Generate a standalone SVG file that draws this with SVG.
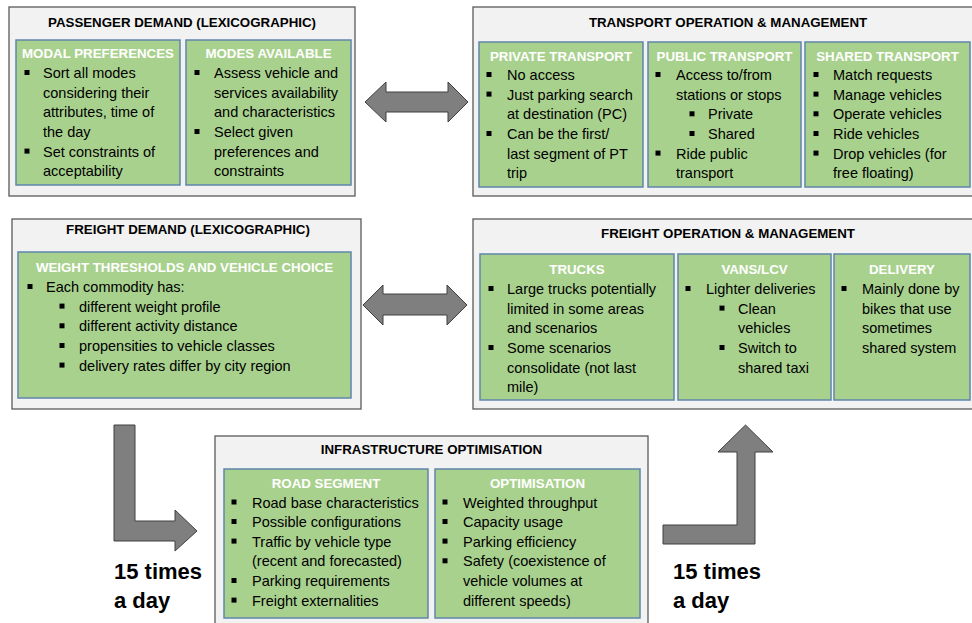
<svg xmlns="http://www.w3.org/2000/svg" xmlns:xlink="http://www.w3.org/1999/xlink" width="972" height="623" viewBox="0 0 972 623">
<style>
.outer{fill:#f2f2f2;stroke:#595959;stroke-width:1.3}
.green{fill:#a9d18e;stroke:#5f85ab;stroke-width:1.5}
.title{font-family:"Liberation Sans",Arial,sans-serif;font-weight:bold;font-size:13.3px;fill:#000;text-anchor:middle}
.hdr{font-family:"Liberation Sans",Arial,sans-serif;font-weight:bold;font-size:13.3px;fill:#fff;text-anchor:middle}
.t{font-family:"Liberation Sans",Arial,sans-serif;font-size:14.5px;fill:#000}
.big{font-family:"Liberation Sans",Arial,sans-serif;font-weight:bold;font-size:22px;fill:#000}
.arrow{fill:#7f7f7f;stroke:#404040;stroke-width:1}
</style>
<defs>
<rect id="b" width="5" height="5" fill="#000"/>
</defs>
<rect x="0" y="0" width="972" height="623" fill="#fff"/>

<g id="connectors">
<polygon class="arrow" points="365,102 386,82 386,92 448,92 448,82 468,102 448,122 448,112 386,112 386,122"/>
<polygon class="arrow" points="363,305 383,285 383,294 447,294 447,285 467,305 447,325 447,315 383,315 383,325"/>
<polygon class="arrow" points="114,425 135,425 135,521 175,521 175,510 197,531 175,551 175,541 114,541"/>
<polygon class="arrow" points="663,525 737,525 737,452 718,452 745.5,425 773,452 755,452 755,544 663,544"/>
</g>

<g id="passenger-demand">
<rect class="outer" x="9" y="7" width="346" height="189"/>
<text class="title" x="182" y="27">PASSENGER DEMAND (LEXICOGRAPHIC)</text>
<g id="modal-preferences">
<rect class="green" x="16" y="40" width="164" height="145"/>
<text class="hdr" x="98" y="58">MODAL PREFERENCES</text>
<use href="#b" x="24.5" y="70"/><text class="t" x="43" y="78">Sort all modes</text>
<text class="t" x="43" y="97.7">considering their</text>
<text class="t" x="43" y="117.3">attributes, time of</text>
<text class="t" x="43" y="137">the day</text>
<use href="#b" x="24.5" y="148.6"/><text class="t" x="43" y="156.6">Set constraints of</text>
<text class="t" x="43" y="176.3">acceptability</text>
</g>
<g id="modes-available">
<rect class="green" x="186" y="40" width="165" height="145"/>
<text class="hdr" x="268.5" y="58">MODES AVAILABLE</text>
<use href="#b" x="194.5" y="70"/><text class="t" x="214" y="78">Assess vehicle and</text>
<text class="t" x="214" y="97.7">services availability</text>
<text class="t" x="214" y="117.3">and characteristics</text>
<use href="#b" x="194.5" y="129"/><text class="t" x="214" y="137">Select given</text>
<text class="t" x="214" y="156.6">preferences and</text>
<text class="t" x="214" y="176.3">constraints</text>
</g>
</g>

<g id="transport-operation">
<rect class="outer" x="473" y="7" width="510" height="189"/>
<text class="title" x="728" y="27">TRANSPORT OPERATION &amp; MANAGEMENT</text>
<g id="private-transport">
<rect class="green" x="479" y="42" width="164" height="145"/>
<text class="hdr" x="561" y="60.5">PRIVATE TRANSPORT</text>
<use href="#b" x="486.5" y="72"/><text class="t" x="507" y="80">No access</text>
<use href="#b" x="486.5" y="91.6"/><text class="t" x="507" y="99.6">Just parking search</text>
<text class="t" x="507" y="119.3">at destination (PC)</text>
<use href="#b" x="486.5" y="131"/><text class="t" x="507" y="139">Can be the first/</text>
<text class="t" x="507" y="158.6">last segment of PT</text>
<text class="t" x="507" y="178.3">trip</text>
</g>
<g id="public-transport">
<rect class="green" x="648" y="42" width="153" height="145"/>
<text class="hdr" x="724.5" y="60.5">PUBLIC TRANSPORT</text>
<use href="#b" x="655.5" y="72"/><text class="t" x="676" y="80">Access to/from</text>
<text class="t" x="676" y="99.6">stations or stops</text>
<use href="#b" x="689.5" y="111.3"/><text class="t" x="708" y="119.3">Private</text>
<use href="#b" x="689.5" y="131"/><text class="t" x="708" y="139">Shared</text>
<use href="#b" x="655.5" y="150.6"/><text class="t" x="676" y="158.6">Ride public</text>
<text class="t" x="676" y="178.3">transport</text>
</g>
<g id="shared-transport">
<rect class="green" x="805" y="42" width="165" height="145"/>
<text class="hdr" x="887.5" y="60.5">SHARED TRANSPORT</text>
<use href="#b" x="813.5" y="72"/><text class="t" x="833" y="80">Match requests</text>
<use href="#b" x="813.5" y="91.6"/><text class="t" x="833" y="99.6">Manage vehicles</text>
<use href="#b" x="813.5" y="111.3"/><text class="t" x="833" y="119.3">Operate vehicles</text>
<use href="#b" x="813.5" y="131"/><text class="t" x="833" y="139">Ride vehicles</text>
<use href="#b" x="813.5" y="150.6"/><text class="t" x="833" y="158.6">Drop vehicles (for</text>
<text class="t" x="833" y="178.3">free floating)</text>
</g>
</g>

<g id="freight-demand">
<rect class="outer" x="12" y="219" width="349" height="190"/>
<text class="title" x="188" y="234">FREIGHT DEMAND (LEXICOGRAPHIC)</text>
<g id="weight-thresholds">
<rect class="green" x="18" y="252" width="333" height="146"/>
<text class="hdr" x="184.5" y="272">WEIGHT THRESHOLDS AND VEHICLE CHOICE</text>
<use href="#b" x="27.5" y="284"/><text class="t" x="46" y="292">Each commodity has:</text>
<use href="#b" x="59.5" y="303.6"/><text class="t" x="79" y="311.6">different weight profile</text>
<use href="#b" x="59.5" y="323.3"/><text class="t" x="79" y="331.3">different activity distance</text>
<use href="#b" x="59.5" y="343"/><text class="t" x="79" y="351">propensities to vehicle classes</text>
<use href="#b" x="59.5" y="362.6"/><text class="t" x="79" y="370.6">delivery rates differ by city region</text>
</g>
</g>

<g id="freight-operation">
<rect class="outer" x="473" y="219" width="510" height="190"/>
<text class="title" x="728" y="238">FREIGHT OPERATION &amp; MANAGEMENT</text>
<g id="trucks">
<rect class="green" x="480" y="254" width="194" height="146"/>
<text class="hdr" x="577" y="273.5">TRUCKS</text>
<use href="#b" x="488.5" y="286"/><text class="t" x="507" y="294">Large trucks potentially</text>
<text class="t" x="507" y="313.6">limited in some areas</text>
<text class="t" x="507" y="333.3">and scenarios</text>
<use href="#b" x="488.5" y="345"/><text class="t" x="507" y="353">Some scenarios</text>
<text class="t" x="507" y="372.6">consolidate (not last</text>
<text class="t" x="507" y="392.3">mile)</text>
</g>
<g id="vans-lcv">
<rect class="green" x="678" y="254" width="153" height="146"/>
<text class="hdr" x="754.5" y="273.5">VANS/LCV</text>
<use href="#b" x="685.5" y="286"/><text class="t" x="706" y="294">Lighter deliveries</text>
<use href="#b" x="719.5" y="305.6"/><text class="t" x="738" y="313.6">Clean</text>
<text class="t" x="738" y="333.3">vehicles</text>
<use href="#b" x="719.5" y="345"/><text class="t" x="738" y="353">Switch to</text>
<text class="t" x="738" y="372.6">shared taxi</text>
</g>
<g id="delivery">
<rect class="green" x="834" y="254" width="136" height="146"/>
<text class="hdr" x="902" y="273.5">DELIVERY</text>
<use href="#b" x="841.5" y="286"/><text class="t" x="862" y="294">Mainly done by</text>
<text class="t" x="862" y="313.6">bikes that use</text>
<text class="t" x="862" y="333.3">sometimes</text>
<text class="t" x="862" y="353">shared system</text>
</g>
</g>

<g id="infrastructure-optimisation">
<rect class="outer" x="215" y="436" width="433" height="200"/>
<text class="title" x="431.5" y="454">INFRASTRUCTURE OPTIMISATION</text>
<g id="road-segment">
<rect class="green" x="224" y="469" width="204" height="149"/>
<text class="hdr" x="326" y="487.5">ROAD SEGMENT</text>
<use href="#b" x="231.5" y="499.5"/><text class="t" x="252" y="507.5">Road base characteristics</text>
<use href="#b" x="231.5" y="519"/><text class="t" x="252" y="527">Possible configurations</text>
<use href="#b" x="231.5" y="538.6"/><text class="t" x="252" y="546.6">Traffic by vehicle type</text>
<text class="t" x="252" y="566.3">(recent and forecasted)</text>
<use href="#b" x="231.5" y="578"/><text class="t" x="252" y="586">Parking requirements</text>
<use href="#b" x="231.5" y="597.6"/><text class="t" x="252" y="605.6">Freight externalities</text>
</g>
<g id="optimisation">
<rect class="green" x="435" y="469" width="205" height="149"/>
<text class="hdr" x="537.5" y="487.5">OPTIMISATION</text>
<use href="#b" x="442.5" y="499.5"/><text class="t" x="463" y="507.5">Weighted throughput</text>
<use href="#b" x="442.5" y="519"/><text class="t" x="463" y="527">Capacity usage</text>
<use href="#b" x="442.5" y="538.6"/><text class="t" x="463" y="546.6">Parking efficiency</text>
<use href="#b" x="442.5" y="558.3"/><text class="t" x="463" y="566.3">Safety (coexistence of</text>
<text class="t" x="463" y="586">vehicle volumes at</text>
<text class="t" x="463" y="605.6">different speeds)</text>
</g>
</g>

<g id="labels">
<text class="big" x="114" y="579">15 times</text>
<text class="big" x="114" y="608">a day</text>
<text class="big" x="673" y="579">15 times</text>
<text class="big" x="673" y="608">a day</text>
</g>
</svg>
